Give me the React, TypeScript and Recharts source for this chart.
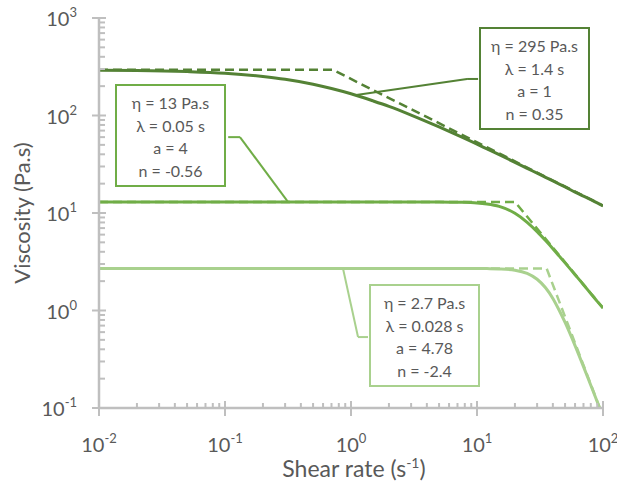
import React from "react"
import { LineChart, Line, XAxis, YAxis, ReferenceLine } from "recharts"

// shear rate grid (s^-1) for the fitted curves
const shearRate = [0.01, 0.02, 0.05, 0.1, 0.2, 0.3, 0.5, 0.7, 1, 1.5, 2, 3, 5, 7, 10, 12, 15, 20, 25, 30, 35, 40, 45, 50, 60, 70, 80, 90, 100]
const etaHigh = [292, 290, 282, 271, 251, 235, 209, 189, 167, 141, 124, 101, 76.3, 62.8, 50.8, 45.4, 39.6, 33.1, 28.7, 25.6, 23.2, 21.3, 19.8, 18.5, 16.4, 14.9, 13.7, 12.7, 11.8]
const etaMid = [13, 13, 13, 13, 13, 13, 13, 13, 13, 13, 13, 13, 13, 12.9, 12.7, 12.4, 11.7, 9.92, 8.03, 6.44, 5.22, 4.31, 3.61, 3.08, 2.33, 1.84, 1.49, 1.24, 1.06]
const etaLow = [2.7, 2.7, 2.7, 2.7, 2.7, 2.7, 2.7, 2.7, 2.7, 2.7, 2.7, 2.7, 2.7, 2.7, 2.7, 2.69, 2.67, 2.59, 2.4, 2.09, 1.71, 1.33, 1.0, 0.755, 0.437, 0.266, 0.171, 0.116, 0.081]

// dashed limits (plateau + power law)
const dashHighX = [0.01, 0.714, 100]
const dashHighY = [295, 295, 11.9]
const dashMidX = [0.01, 20, 100]
const dashMidY = [13, 13, 1.06]
const dashLowX = [0.01, 35.7, 100]
const dashLowY = [2.7, 2.7, 0.082]

const majorX = [0.01, 0.1, 1, 10, 100]
const majorY = [0.1, 1, 10, 100, 1000]
const multipliers = [2, 3, 4, 5, 6, 7, 8, 9]

const xTicks = majorX.flatMap((d, i) => (i < majorX.length - 1 ? [d, ...multipliers.map((m) => d * m)] : [d]))
const yTicks = majorY.flatMap((d, i) => (i < majorY.length - 1 ? [d, ...multipliers.map((m) => d * m)] : [d]))

const solidData = shearRate.map((x, i) => ({ x, high: etaHigh[i], mid: etaMid[i], low: etaLow[i] }))
const toRows = (xs: number[], ys: number[]) => xs.map((x, i) => ({ x, y: ys[i] }))

const DARK = "#548235"
const MID = "#70ad47"
const LIGHT = "#a9d18e"
const AXIS = "#bfbfbf"
const TEXT = "#595959"
const FONT = "Lato, 'Noto Sans', sans-serif"

const isMajor = (v: number) => Math.abs(Math.log10(v) - Math.round(Math.log10(v))) < 1e-6

const YTick = (props: any) => {
  const { x, y, payload } = props
  const v = payload.value
  if (!isMajor(v)) return <line x1={x} x2={x + 6} y1={y} y2={y} stroke={AXIS} strokeWidth={2} />
  const exp = Math.round(Math.log10(v))
  return (
    <g>
      <line x1={x - 7} x2={x + 7} y1={y} y2={y} stroke={AXIS} strokeWidth={2} />
      <text x={x - 22} y={y + 8} textAnchor="end" fill={TEXT} fontSize={20} fontFamily={FONT}>
        10<tspan dy={-9} fontSize={13}>{exp}</tspan>
      </text>
    </g>
  )
}

const XTick = (props: any) => {
  const { x, y, payload } = props
  const v = payload.value
  if (!isMajor(v)) return <line x1={x} x2={x} y1={y - 5} y2={y} stroke={AXIS} strokeWidth={2} />
  const exp = Math.round(Math.log10(v))
  return (
    <g>
      <line x1={x} x2={x} y1={y - 7} y2={y + 8} stroke={AXIS} strokeWidth={2} />
      <text x={x} y={y + 44} textAnchor="middle" fill={TEXT} fontSize={20} fontFamily={FONT}>
        10<tspan dy={-9} fontSize={13}>{exp}</tspan>
      </text>
    </g>
  )
}

const boxStyle = (color: string, left: number, top: number): React.CSSProperties => ({
  position: "absolute",
  left,
  top,
  width: 111,
  height: 103,
  border: `2px solid ${color}`,
  background: "#fff",
  display: "flex",
  flexDirection: "column",
  justifyContent: "center",
  alignItems: "center",
  paddingTop: 3,
  boxSizing: "border-box",
  fontFamily: FONT,
  fontSize: 16,
  lineHeight: "22.5px",
  color: TEXT,
})

const Box = ({ color, left, top, lines }: { color: string; left: number; top: number; lines: string[] }) => (
  <div style={boxStyle(color, left, top)}>
    {lines.map((l) => (
      <div key={l}>{l}</div>
    ))}
  </div>
)

export default function App() {
  return (
    <div style={{ position: "absolute", left: 0, top: 0, width: 617, height: 490, background: "#fff" }}>
      <LineChart width={617} height={490} data={solidData} margin={{ top: 18, right: 14, left: 0, bottom: 0 }}>
        <XAxis
          dataKey="x"
          type="number"
          scale="log"
          domain={[0.01, 100]}
          allowDataOverflow
          ticks={xTicks}
          interval={0}
          tickSize={0}
          tickMargin={0}
          tickLine={false}
          tick={<XTick />}
          height={82}
          axisLine={{ stroke: AXIS, strokeWidth: 2.5 }}
        />
        <YAxis
          type="number"
          scale="log"
          domain={[0.1, 1000]}
          allowDataOverflow
          ticks={yTicks}
          interval={0}
          tickSize={0}
          tickMargin={0}
          tickLine={false}
          tick={<YTick />}
          width={99}
          axisLine={{ stroke: AXIS, strokeWidth: 2.5 }}
        />
        <Line data={toRows(dashHighX, dashHighY)} dataKey="y" type="linear" stroke={DARK} strokeWidth={2.5} strokeDasharray="9 5" dot={false} isAnimationActive={false} />
        <Line data={toRows(dashMidX, dashMidY)} dataKey="y" type="linear" stroke={MID} strokeWidth={2.5} strokeDasharray="9 5" dot={false} isAnimationActive={false} />
        <Line data={toRows(dashLowX, dashLowY)} dataKey="y" type="linear" stroke={LIGHT} strokeWidth={2.5} strokeDasharray="9 5" dot={false} isAnimationActive={false} />
        <Line dataKey="high" type="monotone" stroke={DARK} strokeWidth={3} dot={false} isAnimationActive={false} />
        <Line dataKey="mid" type="monotone" stroke={MID} strokeWidth={3} dot={false} isAnimationActive={false} />
        <Line dataKey="low" type="monotone" stroke={LIGHT} strokeWidth={3} dot={false} isAnimationActive={false} />
        <ReferenceLine segment={[{ x: 10.2, y: 237 }, { x: 8.34, y: 237 }]} stroke={DARK} strokeWidth={2} />
        <ReferenceLine segment={[{ x: 8.34, y: 237 }, { x: 1.1, y: 162 }]} stroke={DARK} strokeWidth={2} />
        <ReferenceLine segment={[{ x: 0.106, y: 60 }, { x: 0.1315, y: 60 }]} stroke={MID} strokeWidth={2} />
        <ReferenceLine segment={[{ x: 0.1315, y: 60 }, { x: 0.316, y: 13 }]} stroke={MID} strokeWidth={2} />
        <ReferenceLine segment={[{ x: 1.365, y: 0.534 }, { x: 1.137, y: 0.534 }]} stroke={LIGHT} strokeWidth={2} />
        <ReferenceLine segment={[{ x: 1.137, y: 0.534 }, { x: 0.864, y: 2.7 }]} stroke={LIGHT} strokeWidth={2} />
      </LineChart>
      <svg width={617} height={490} style={{ position: "absolute", left: 0, top: 0, pointerEvents: "none" }}>
        <text x={354} y={477} textAnchor="middle" fill={TEXT} fontSize={23} fontFamily={FONT}>
          Shear rate (s<tspan dy={-9} fontSize={14}>-1</tspan>
          <tspan dy={9}>)</tspan>
        </text>
        <text x={0} y={0} transform="translate(30 213) rotate(-90)" textAnchor="middle" fill={TEXT} fontSize={22} fontFamily={FONT}>
          Viscosity (Pa.s)
        </text>
      </svg>
      <Box color={DARK} left={479} top={27} lines={["η = 295 Pa.s", "λ = 1.4 s", "a = 1", "n = 0.35"]} />
      <Box color={MID} left={115} top={84} lines={["η = 13 Pa.s", "λ = 0.05 s", "a = 4", "n = -0.56"]} />
      <Box color={LIGHT} left={369} top={284} lines={["η = 2.7 Pa.s", "λ = 0.028 s", "a = 4.78", "n = -2.4"]} />
    </div>
  )
}
